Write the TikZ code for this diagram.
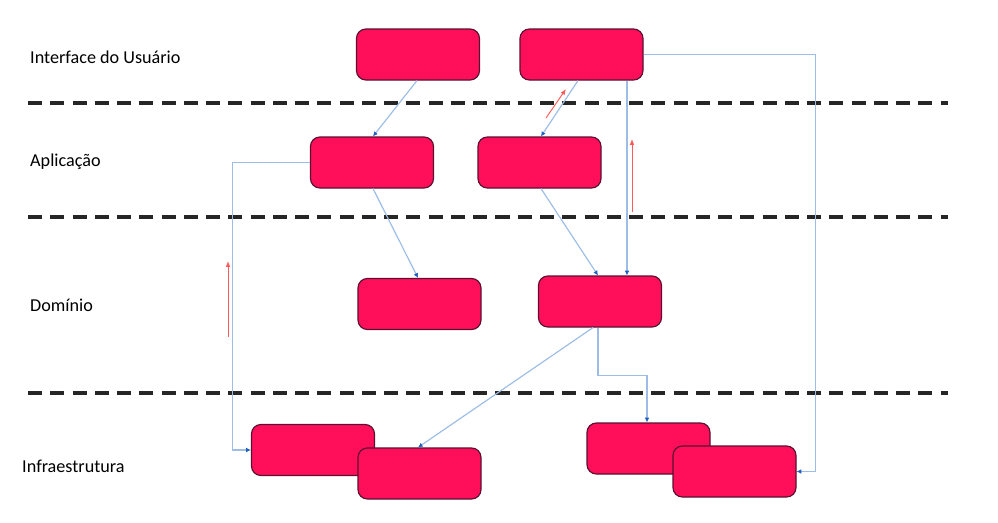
\documentclass[tikz,border=0pt]{standalone}
\usepackage{fontspec}
\setmainfont{Carlito}
\usetikzlibrary{arrows.meta,calc}
\definecolor{boxfill}{HTML}{FF0F5A}
\definecolor{boxline}{HTML}{5A1030}
\definecolor{linkcol}{HTML}{9DBDE6}
\definecolor{tipcol}{HTML}{1F5FBF}
\definecolor{flowred}{HTML}{FF5A5A}
\begin{document}
\begin{tikzpicture}[x=0.03cm,y=-0.03cm,
  block/.style={draw=boxline,fill=boxfill,line width=1pt,rounded corners=8pt,
    minimum width=3.69cm,minimum height=1.53cm,inner sep=0pt},
  layer/.style={anchor=west,inner sep=0pt,font=\fontsize{15.5pt}{18pt}\selectfont,text=black},
  divider/.style={black!85,line width=2.6pt,dash pattern=on 12pt off 7pt},
  link/.style={linkcol,line width=1pt,-{Latex[length=4pt,width=4pt,color=tipcol]}},
  flow/.style={flowred,line width=0.8pt,-{Latex[length=5pt,width=4pt]}}]
\useasboundingbox (0,0) rectangle (998,522);

% layer dividers
\draw[divider] (28,103) -- (948,103);
\draw[divider] (28,217) -- (948,217);
\draw[divider] (28,393) -- (948,393);

% layer names
\node[layer] (lui)  at (30,57)  {Interface do Usuário};
\node[layer] (lapp) at (30,162) {Aplicação};
\node[layer] (ldom) at (30,305) {Domínio};
\node[layer] (linf) at (22,466) {Infraestrutura};

% components
\node[block] (b1) at (418,54.5) {};
\node[block] (b2) at (581.5,54.5) {};
\node[block] (b3) at (372,162.5) {};
\node[block] (b4) at (539.5,162.5) {};
\node[block] (b5) at (419.5,304) {};
\node[block] (b6) at (600,301.5) {};
\node[block] (b7) at (313,450) {};
\node[block] (b8) at (419.5,473.5) {};
\node[block] (b9) at (648.5,448.5) {};
\node[block] (b10) at (734.5,471.5) {};

% dependencies
\draw[link] ($(b1.south)+(-1,0)$) -- ($(b3.north)+(1,0)$);
\draw[link] ($(b2.south)+(-3.5,0)$) -- ($(b4.north)+(1.5,0)$);
\draw[link] ($(b2.south)+(45.5,0)$) coordinate (p1) -- (p1 |- b6.north);
\draw[link] (b2.east) -- ++(172,0) |- (b10.east);
\draw[link] (b3.west) -- ++(-77,0) |- (b7.west);
\draw[link] ($(b3.south)+(1,0)$) -- ($(b5.north)+(-1.5,0)$);
\draw[link] ($(b4.south)+(1.5,0)$) -- ($(b6.north)+(-2,0)$);
\draw[link] ($(b6.south)+(-7,0)$) -- ($(b8.north)+(-1.5,0)$);
\draw[link] ($(b6.south)+(-2,0)$) -- ++(0,48) -| ($(b9.north)+(-1.5,0)$);

% upward call flow
\coordinate (r1a) at (546,118);
\coordinate (r1b) at (566,89);
\coordinate (r2a) at (632,212);
\coordinate (r2b) at (632,139);
\coordinate (r3a) at (228,337);
\coordinate (r3b) at (228,261);
\draw[flow] (r1a) -- (r1b);
\draw[flow] (r2a) -- (r2b);
\draw[flow] (r3a) -- (r3b);
\end{tikzpicture}
\end{document}
